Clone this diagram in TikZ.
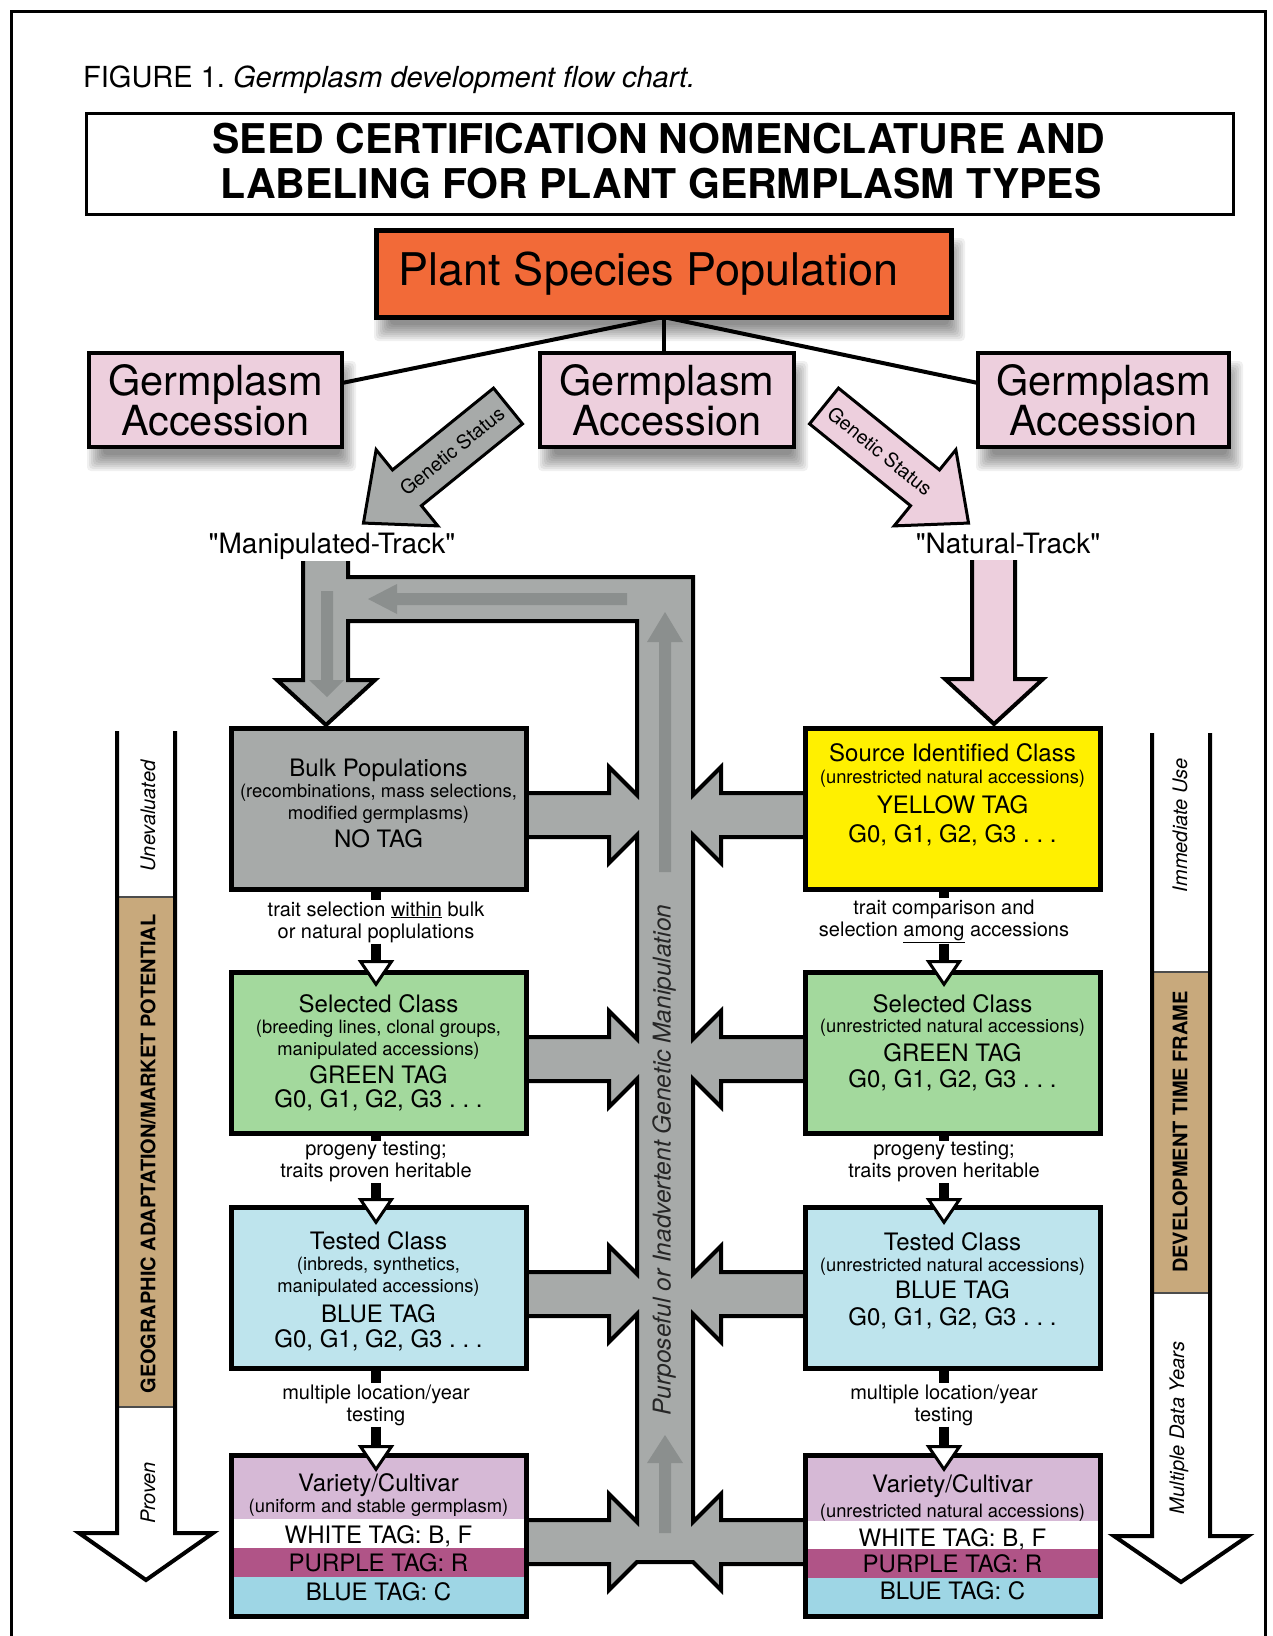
\documentclass[tikz,border=0pt]{standalone}
\usepackage{fontspec}
\setmainfont{TeX Gyre Heros}
\usetikzlibrary{arrows.meta,calc}
\frenchspacing
\definecolor{cgray}{HTML}{A7AAA9}
\definecolor{cdark}{HTML}{8B8F8E}
\definecolor{cpink}{HTML}{EDCFDD}
\definecolor{corange}{HTML}{F26A38}
\definecolor{cyellow}{HTML}{FFF000}
\definecolor{cgreen}{HTML}{A3D99D}
\definecolor{cltblue}{HTML}{BEE4ED}
\definecolor{clilac}{HTML}{D6B9D6}
\definecolor{cpurple}{HTML}{B05487}
\definecolor{cblueband}{HTML}{9ED6E5}
\definecolor{ctan}{HTML}{C8A97C}
\newcommand{\softshadow}[4]{%
  \foreach \sh in {-8,-6,...,8}{%
    \fill[black,opacity=0.06,rounded corners=4pt] ({#1+6-\sh},{#2+16-\sh}) rectangle ({#3+6+\sh},{#4+16+\sh});
  }}
\tikzset{
  ol/.style={draw=black,line width=4pt,line join=miter},
  fbox/.style={draw=black,line width=5pt,anchor=north west,inner sep=0pt,outer sep=0pt,minimum width=295pt,minimum height=161pt},
  accbox/.style={draw=black,line width=4.5pt,fill=cpink,anchor=north west,inner sep=0pt,outer sep=0pt,minimum width=253pt,minimum height=94pt,align=center,font=\fontsize{41.5}{40}\selectfont},
  tb/.style={anchor=base,inner sep=0pt,font=\fontsize{24}{28}\selectfont},
  ts/.style={anchor=base,inner sep=0pt,font=\fontsize{18.4}{22}\selectfont},
  lab/.style={align=center,inner sep=1pt,font=\fontsize{20}{22}\selectfont},
  stub/.style={draw=black,line width=10pt},
  wtri/.style={-{Triangle[length=27pt,width=36pt,fill=white,line width=3pt]}},
  rotit/.style={rotate=90,inner sep=0pt,font=\itshape\fontsize{20}{22}\selectfont},
  rotbf/.style={rotate=90,inner sep=0pt,font=\bfseries\fontsize{20}{22}\selectfont}
}
\begin{document}
\begin{tikzpicture}[x=1pt,y=-1pt]
\useasboundingbox (0,0) rectangle (1272,1636);
\fill[white] (0,0) rectangle (1272,1636);
\draw[line width=3pt] (11,1636) -- (11,11) -- (1265,11) -- (1265,1636);

% caption and title
\node[anchor=base west,inner sep=0pt,font=\fontsize{29}{34}\selectfont] (cap) at (83,87) {FIGURE 1. \textit{Germplasm development flow chart.}};
\node[draw,line width=3pt,anchor=north west,minimum width=1147pt,minimum height=101pt,inner sep=0pt,outer sep=0pt,fill=white] (tbox) at (86,113) {};
\node[anchor=base,inner sep=0pt,font=\bfseries\fontsize{41}{44}\selectfont] (t1) at (659,153) {SEED CERTIFICATION NOMENCLATURE AND};
\node[anchor=base,inner sep=0pt,font=\bfseries\fontsize{41}{44}\selectfont] (t2) at (661,198) {LABELING FOR PLANT GERMPLASM TYPES};

% shadows
\softshadow{376}{230}{951}{317}
\softshadow{89}{353}{342}{447}
\softshadow{540}{353}{794}{447}
\softshadow{978}{353}{1229}{447}

% top boxes
\node[draw,line width=5pt,fill=corange,anchor=north west,minimum width=575pt,minimum height=87pt,inner sep=0pt,outer sep=0pt,font=\fontsize{45}{48}\selectfont] (psp) at (376,230) {Plant Species Population\hspace*{30pt}};
\node[accbox] (accL) at (89,353) {Germplasm\\Accession};
\node[accbox,minimum width=254pt] (accM) at (540,353) {Germplasm\\Accession};
\node[accbox,minimum width=251pt] (accR) at (978,353) {Germplasm\\Accession};
\draw[line width=4pt] (psp.south) -- ([yshift=17pt]accL.east);
\draw[line width=4pt] (psp.south) -- (psp.south |- accM.north);
\draw[line width=4pt] (psp.south) -- ([yshift=17pt]accR.west);

% genetic status arrows
\begin{scope}[shift={(508,406)},rotate=219]
\filldraw[fill=cgray,draw=black,line width=3pt,line join=miter] (0,-23) -- (130,-23) -- (130,-49) -- (186,0) -- (130,49) -- (130,23) -- (0,23) -- cycle;
\end{scope}
\begin{scope}[shift={(824,406)},rotate=-39]
\filldraw[fill=cpink,draw=black,line width=3pt,line join=miter] (0,-23) -- (130,-23) -- (130,-49) -- (186,0) -- (130,49) -- (130,23) -- (0,23) -- cycle;
\end{scope}
\node[rotate=39,inner sep=0pt,font=\fontsize{19.5}{20}\selectfont] (gs1) at (452,451) {Genetic Status};
\node[rotate=-39,inner sep=0pt,font=\fontsize{19.5}{20}\selectfont] (gs2) at (880,451) {Genetic Status};

\node[anchor=base,inner sep=0pt,font=\fontsize{28}{30}\selectfont] (mt) at (332,553) {\textquotedbl Manipulated-Track\textquotedbl};
\node[anchor=base,inner sep=0pt,font=\fontsize{28}{30}\selectfont] (nt) at (1008,553) {\textquotedbl Natural-Track\textquotedbl};

% gray manipulation network: fill
\fill[cgray] (637,577) rectangle (693,1563);
\fill[cgray] (303,577) rectangle (693,621);
\fill[cgray] (303,561) rectangle (348,681);
\fill[cgray] (277,680) -- (326,725) -- (375,680) -- cycle;
\foreach \c in {815,1059,1294,1542}{
  \fill[cgray] (520,{\c-22}) -- (609,{\c-22}) -- (609,{\c-48}) -- (657,\c) -- (609,{\c+48}) -- (609,{\c+22}) -- (520,{\c+22}) -- cycle;
  \fill[cgray] (811,{\c-22}) -- (721,{\c-22}) -- (721,{\c-48}) -- (673,\c) -- (721,{\c+48}) -- (721,{\c+22}) -- (811,{\c+22}) -- cycle;
}
% outline
\draw[ol] (303,561) -- (303,680) -- (277,680) -- (326,725) -- (375,680) -- (348,680) -- (348,621) -- (637,621) -- (637,795) -- (609,767) -- (609,793) -- (520,793);
\draw[ol] (348,561) -- (348,577) -- (693,577) -- (693,795) -- (721,767) -- (721,793) -- (811,793);
\foreach \a/\b in {815/1059,1059/1294,1294/1542}{
  \draw[ol] (520,{\a+22}) -- (609,{\a+22}) -- (609,{\a+48}) -- (637,{\a+20}) -- (637,{\b-20}) -- (609,{\b-48}) -- (609,{\b-22}) -- (520,{\b-22});
  \draw[ol] (811,{\a+22}) -- (721,{\a+22}) -- (721,{\a+48}) -- (693,{\a+20}) -- (693,{\b-20}) -- (721,{\b-48}) -- (721,{\b-22}) -- (811,{\b-22});
}
\draw[ol] (520,1564) -- (609,1564) -- (609,1590) -- (637,1562) -- (693,1562) -- (721,1590) -- (721,1564) -- (811,1564);
% dark inner arrows
\fill[cdark] (627,593) -- (397,593) -- (397,584) -- (368,599) -- (397,614) -- (397,605) -- (627,605) -- cycle;
\fill[cdark] (321,591) -- (333,591) -- (333,680) -- (344,680) -- (327,697) -- (309,680) -- (321,680) -- cycle;
\fill[cdark] (659,872) -- (671,872) -- (671,642) -- (683,642) -- (665,612) -- (647,642) -- (659,642) -- cycle;
\fill[cdark] (659,1533) -- (671,1533) -- (671,1463) -- (683,1463) -- (665,1435) -- (647,1463) -- (659,1463) -- cycle;
\node[rotate=90,inner sep=0pt,font=\itshape\fontsize{24.5}{26}\selectfont,text=black!85] (pgm) at (664,1160) {Purposeful or Inadvertent Genetic Manipulation};

% natural track arrow
\fill[cpink] (972,560) -- (972,679) -- (945,679) -- (994,724) -- (1043,679) -- (1015,679) -- (1015,560) -- cycle;
\draw[ol] (972,560) -- (972,679) -- (945,679) -- (994,724) -- (1043,679) -- (1015,679) -- (1015,560);

% class boxes
\node[fbox,fill=cgray] (bulk) at (231,728) {};
\node[fbox,fill=cgreen] (selL) at (231,972) {};
\node[fbox,fill=cltblue] (tstL) at (231,1207) {};
\node[fbox,fill=clilac] (varL) at (231,1455) {};
\node[fbox,fill=cyellow] (src) at (805,728) {};
\node[fbox,fill=cgreen] (selR) at (805,972) {};
\node[fbox,fill=cltblue] (tstR) at (805,1207) {};
\node[fbox,fill=clilac] (varR) at (805,1455) {};
\fill[white] (231,1519) rectangle (526,1548);
\fill[cpurple] (231,1548) rectangle (526,1577);
\fill[cblueband] (231,1577) rectangle (526,1616);
\fill[white] (805,1521) rectangle (1100,1549);
\fill[cpurple] (805,1549) rectangle (1100,1578);
\fill[cblueband] (805,1578) rectangle (1100,1616);
\draw[line width=5pt] (varL.north west) rectangle (varL.south east);
\draw[line width=5pt] (varR.north west) rectangle (varR.south east);

% texts left
\node[tb] (bulk1) at (378.5,776) {Bulk Populations};
\node[ts] (bulk2) at (378.5,797) {(recombinations, mass selections,};
\node[ts] (bulk3) at (378.5,819) {modified germplasms)};
\node[tb] (bulk4) at (378.5,847) {NO TAG};
\node[tb] (selL1) at (378.5,1012) {Selected Class};
\node[ts] (selL2) at (378.5,1033) {(breeding lines, clonal groups,};
\node[ts] (selL3) at (378.5,1055) {manipulated accessions)};
\node[tb] (selL4) at (378.5,1083) {GREEN TAG};
\node[tb] (selL5) at (378.5,1107) {G0, G1, G2, G3 . . .};
\node[tb] (tstL1) at (378.5,1249) {Tested Class};
\node[ts] (tstL2) at (378.5,1270) {(inbreds, synthetics,};
\node[ts] (tstL3) at (378.5,1292) {manipulated accessions)};
\node[tb] (tstL4) at (378.5,1322) {BLUE TAG};
\node[tb] (tstL5) at (378.5,1347) {G0, G1, G2, G3 . . .};
\node[tb] (varL1) at (378.5,1491) {Variety/Cultivar};
\node[ts] (varL2) at (378.5,1512) {(uniform and stable germplasm)};
\node[tb] (varL3) at (378.5,1543) {WHITE TAG: B, F};
\node[tb] (varL4) at (378.5,1571) {PURPLE TAG: R};
\node[tb] (varL5) at (378.5,1600) {BLUE TAG: C};
% texts right
\node[tb] (src1) at (952.5,761) {Source Identified Class};
\node[ts] (src2) at (952.5,783) {(unrestricted natural accessions)};
\node[tb] (src3) at (952.5,813) {YELLOW TAG};
\node[tb] (src4) at (952.5,842) {G0, G1, G2, G3 . . .};
\node[tb] (selR1) at (952.5,1012) {Selected Class};
\node[ts] (selR2) at (952.5,1032) {(unrestricted natural accessions)};
\node[tb] (selR3) at (952.5,1061) {GREEN TAG};
\node[tb] (selR4) at (952.5,1087) {G0, G1, G2, G3 . . .};
\node[tb] (tstR1) at (952.5,1250) {Tested Class};
\node[ts] (tstR2) at (952.5,1271) {(unrestricted natural accessions)};
\node[tb] (tstR3) at (952.5,1298) {BLUE TAG};
\node[tb] (tstR4) at (952.5,1325) {G0, G1, G2, G3 . . .};
\node[tb] (varR1) at (952.5,1492) {Variety/Cultivar};
\node[ts] (varR2) at (952.5,1517) {(unrestricted natural accessions)};
\node[tb] (varR3) at (952.5,1546) {WHITE TAG: B, F};
\node[tb] (varR4) at (952.5,1572) {PURPLE TAG: R};
\node[tb] (varR5) at (952.5,1599) {BLUE TAG: C};

% step labels and connectors
\node[lab] (l1) at (376,922) {trait selection \underline{within} bulk\\or natural poplulations};
\node[lab] (l2) at (376,1162) {progeny testing;\\traits proven heritable};
\node[lab] (l3) at (376,1405) {multiple location/year\\testing};
\node[lab] (r1) at (944,921) {trait comparison and\\selection \underline{among} accessions};
\node[lab] (r2) at (944,1162) {progeny testing;\\traits proven heritable};
\node[lab] (r3) at (944,1405) {multiple location/year\\testing};
\draw[stub] (l1.north |- bulk.south) -- (l1.north);
\draw[stub,wtri] (l1.south) -- ($(l1.south |- selL.north)+(0,15)$);
\draw[stub] (l2.north |- selL.south) -- (l2.north);
\draw[stub,wtri] (l2.south) -- ($(l2.south |- tstL.north)+(0,18)$);
\draw[stub] (l3.north |- tstL.south) -- (l3.north);
\draw[stub,wtri] (l3.south) -- ($(l3.south |- varL.north)+(0,17)$);
\draw[stub] (r1.north |- src.south) -- (r1.north);
\draw[stub,wtri] (r1.south) -- ($(r1.south |- selR.north)+(0,15)$);
\draw[stub] (r2.north |- selR.south) -- (r2.north);
\draw[stub,wtri] (r2.south) -- ($(r2.south |- tstR.north)+(0,18)$);
\draw[stub] (r3.north |- tstR.south) -- (r3.north);
\draw[stub,wtri] (r3.south) -- ($(r3.south |- varR.north)+(0,17)$);

% side bands
\filldraw[fill=ctan,draw=black!70,line width=1.5pt] (117,897) rectangle (175,1407);
\draw[ol] (117,731) -- (117,1533) -- (79,1533) -- (146,1580) -- (213,1533) -- (175,1533) -- (175,731);
\node[rotit] (unev) at (148,816) {Unevaluated};
\node[rotbf] (geo) at (148,1154) {GEOGRAPHIC ADAPTATION/MARKET POTENTIAL};
\node[rotit] (prov) at (148,1493) {Proven};
\filldraw[fill=ctan,draw=black!70,line width=1.5pt] (1152,972) rectangle (1210,1293);
\draw[ol] (1152,733) -- (1152,1536) -- (1114,1536) -- (1181,1582) -- (1248,1536) -- (1210,1536) -- (1210,733);
\node[rotit] (imm) at (1180,825) {Immediate Use};
\node[rotbf] (dev) at (1180,1132) {DEVELOPMENT TIME FRAME};
\node[rotit] (mdy) at (1179,1428) {Multiple Data Years};
\end{tikzpicture}
\end{document}
